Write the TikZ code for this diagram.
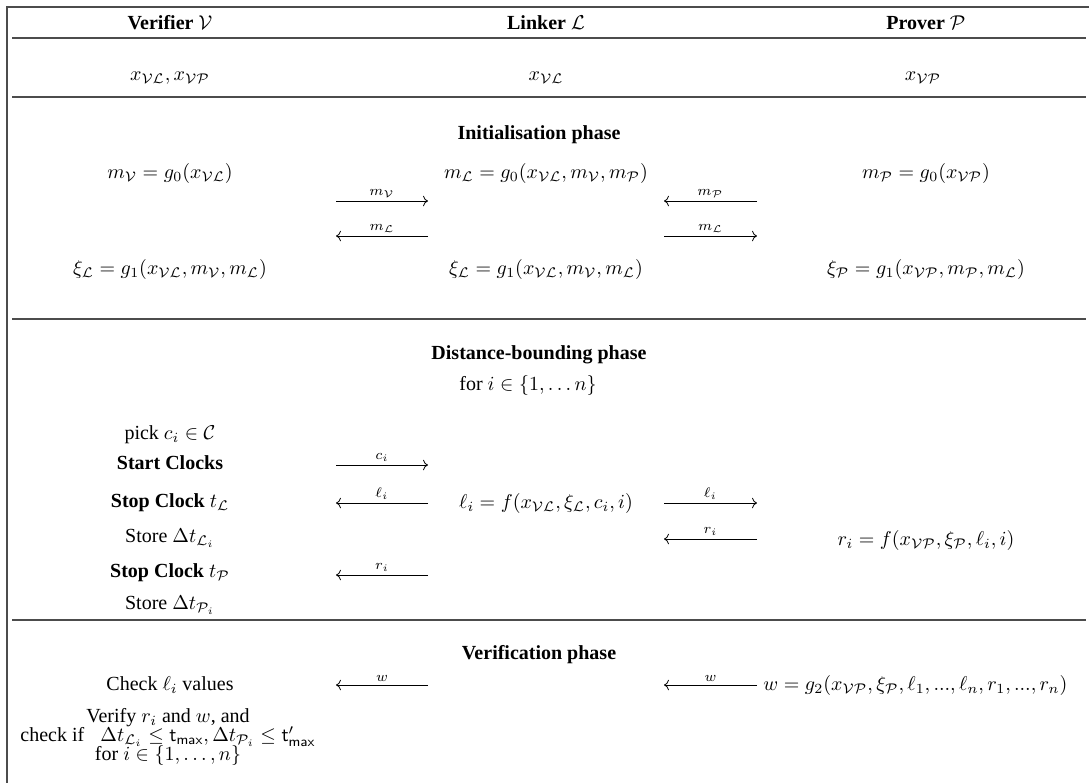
\documentclass[tikz,border=0pt]{standalone}
\usepackage{amsmath,amssymb}
\usepackage[no-math]{fontspec}
\setmainfont{Liberation Serif}
\usetikzlibrary{arrows.meta}

\begin{document}
\begin{tikzpicture}[x=0.5pt, y=-0.5pt, >=To,
		msg/.style={->, line width=0.4pt},
		lbl/.style={above, font=\scriptsize, inner sep=1.5pt},
		rule/.style={line width=0.8pt, black!70},
		phase/.style={font=\bfseries}]
		
		\useasboundingbox (0,0) rectangle (1089,783);
		
		% frame and rules
		\draw[rule] (7,783) -- (7,7) -- (1089,7);
		\draw[rule] (12,38) -- (1086,38);
		\draw[rule] (12,97) -- (1086,97);
		\draw[rule] (12,319) -- (1086,319);
		\draw[rule] (12,620) -- (1086,620);
		
		% parties
		\node (hV) at (170,23) {\textbf{Verifier} \(\mathcal{V}\)};
		\node (hL) at (546,23) {\textbf{Linker} \(\mathcal{L}\)};
		\node (hP) at (926,23) {\textbf{Prover} \(\mathcal{P}\)};
		
		% shared keys
		\node (kV) at (170,78) {\(x_{\mathcal{VL}}, x_{\mathcal{VP}}\)};
		\node (kL) at (546,78) {\(x_{\mathcal{VL}}\)};
		\node (kP) at (923,78) {\(x_{\mathcal{VP}}\)};
		
		% arrow end points, one row per message
		\foreach \r/\y in {a/201, b/236, c/465, d/503, e/539, f/575, g/685} {
			\coordinate (V\r) at (336,\y);
			\coordinate (Lw\r) at (428,\y);
			\coordinate (Le\r) at (664,\y);
			\coordinate (P\r) at (757,\y);
		}
		
		% initialisation phase
		\node[phase] (init) at (539,135) {Initialisation phase};
		\node (mV) at (170,173) {\(m_{\mathcal{V}} = g_0(x_{\mathcal{VL}})\)};
		\node (mL) at (546,173) {\(m_{\mathcal{L}} = g_0(x_{\mathcal{VL}}, m_{\mathcal{V}}, m_{\mathcal{P}})\)};
		\node (mP) at (926,173) {\(m_{\mathcal{P}} = g_0(x_{\mathcal{VP}})\)};
		\node (xiV) at (170,269) {\(\xi_{\mathcal{L}} = g_1(x_{\mathcal{VL}}, m_{\mathcal{V}}, m_{\mathcal{L}})\)};
		\node (xiL) at (546,269) {\(\xi_{\mathcal{L}} = g_1(x_{\mathcal{VL}}, m_{\mathcal{V}}, m_{\mathcal{L}})\)};
		\node (xiP) at (926,269) {\(\xi_{\mathcal{P}} = g_1(x_{\mathcal{VP}}, m_{\mathcal{P}}, m_{\mathcal{L}})\)};
		
		\draw[msg] (Va) -- node[lbl] {\(m_{\mathcal{V}}\)} (Lwa);
		\draw[msg] (Lwb) -- node[lbl] {\(m_{\mathcal{L}}\)} (Vb);
		\draw[msg] (Pa) -- node[lbl] {\(m_{\mathcal{P}}\)} (Lea);
		\draw[msg] (Leb) -- node[lbl] {\(m_{\mathcal{L}}\)} (Pb);
		
		% distance-bounding phase
		\node[phase] (db) at (539,355) {Distance-bounding phase};
		\node (loop) at (528,385) {for \(i \in \{1, \ldots n\}\)};
		\node (pick) at (170,435) {pick \(c_i \in \mathcal{C}\)};
		\node[phase] (start) at (170,463) {Start Clocks};
		\node (stopL) at (170,503) {\textbf{Stop Clock} \(t_{\mathcal{L}}\)};
		\node (storeL) at (170,538) {Store \(\Delta t_{\mathcal{L}_i}\)};
		\node (stopP) at (170,573) {\textbf{Stop Clock} \(t_{\mathcal{P}}\)};
		\node (storeP) at (170,605) {Store \(\Delta t_{\mathcal{P}_i}\)};
		\node (li) at (546,503) {\(\ell_i = f(x_{\mathcal{VL}}, \xi_{\mathcal{L}}, c_i, i)\)};
		\node (ri) at (926,540) {\(r_i = f(x_{\mathcal{VP}}, \xi_{\mathcal{P}}, \ell_i, i)\)};
		
		\draw[msg] (Vc) -- node[lbl] {\(c_i\)} (Lwc);
		\draw[msg] (Lwd) -- node[lbl] {\(\ell_i\)} (Vd);
		\draw[msg] (Led) -- node[lbl] {\(\ell_i\)} (Pd);
		\draw[msg] (Pe) -- node[lbl] {\(r_i\)} (Lee);
		\draw[msg] (Lwf) -- node[lbl] {\(r_i\)} (Vf);
		
		% verification phase
		\node[phase] (ver) at (539,655) {Verification phase};
		\node (chk) at (170,685) {Check \(\ell_i\) values};
		\node[align=center] (vf) at (168,737) {Verify \(r_i\) and \(w\), and\\[-2.6pt]
			check if \(\;\;\Delta t_{\mathcal{L}_i} \le \mathsf{t}_{\mathsf{max}}, \Delta t_{\mathcal{P}_i} \le \mathsf{t}'_{\mathsf{max}}\)\\[-2.6pt]
			for \(i \in \{1, \ldots, n\}\)};
		\node[anchor=west, inner sep=0pt] (w) at (763,685) {\(w = g_2(x_{\mathcal{VP}}, \xi_{\mathcal{P}}, \ell_1, ..., \ell_n, r_1, ..., r_n)\)};
		
		\draw[msg] (Lwg) -- node[lbl] {\(w\)} (Vg);
		\draw[msg] (Pg) -- node[lbl] {\(w\)} (Leg);
		
	\end{tikzpicture}
\end{document}
